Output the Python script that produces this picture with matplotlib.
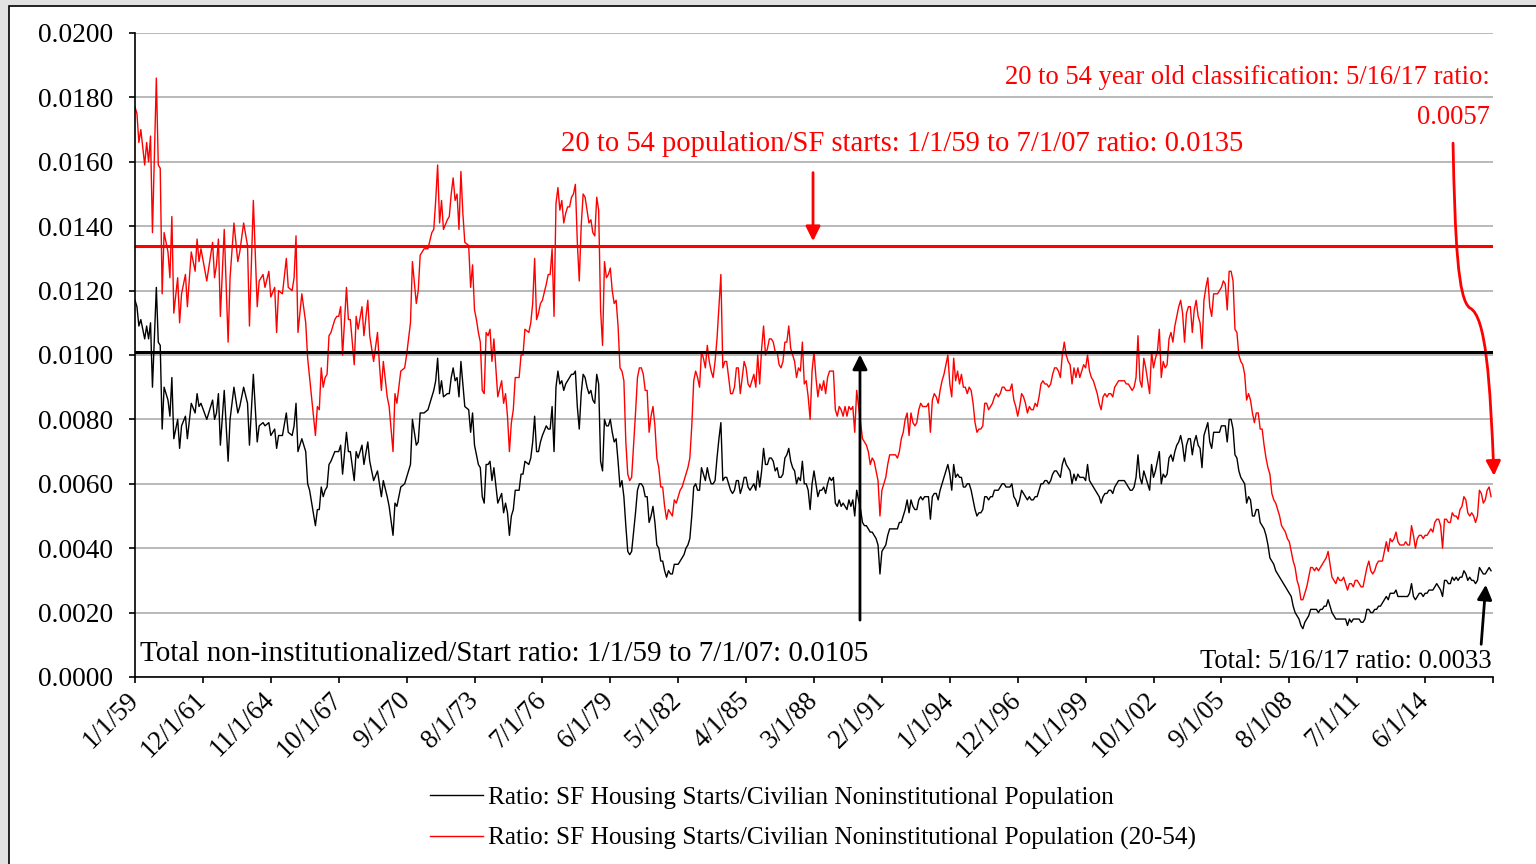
import numpy as np
import matplotlib
matplotlib.use('Agg')
import matplotlib.pyplot as plt
from matplotlib.patches import Rectangle, FancyArrowPatch
from matplotlib.path import Path
from matplotlib.ticker import FormatStrFormatter
from matplotlib.transforms import ScaledTranslation

plt.rcParams['font.family'] = ['Liberation Serif', 'DejaVu Serif']

# months counted from 1/1/59 (irregular up to month 221)
early_months = [0, 1, 2, 3, 5, 6, 7, 8, 9, 11,
                12, 13, 14, 15, 17, 18, 19, 20, 22, 23,
                24, 26, 27, 29, 31, 32, 33, 34, 37, 40,
                41, 42, 43, 44, 46, 48, 49, 51, 53, 54,
                56, 58, 59, 61, 63, 64, 66, 67, 69, 70,
                72, 73, 74, 76, 78, 79, 81, 82, 83, 84,
                86, 88, 89, 90, 93, 94, 95, 96, 97, 98,
                99, 100, 101, 103, 104, 105, 106, 107, 109, 110,
                111, 113, 114, 115, 117, 118, 120, 121, 123, 125,
                126, 127, 128, 130, 131, 133, 134, 135, 137, 139,
                140, 142, 143, 145, 146, 147, 149, 151, 153, 154,
                155, 156, 157, 158, 159, 161, 162, 163, 164, 165,
                166, 167, 168, 169, 170, 172, 173, 174, 175, 176,
                177, 178, 179, 180, 181, 182, 183, 184, 185, 187,
                189, 190, 191, 192, 193, 194, 195, 196, 198, 199,
                200, 201, 203, 204, 205, 206, 207, 208, 209, 210,
                212, 213, 214, 215, 216, 217, 218, 219, 220, 221]

early_red = [.0177, .0175, .0166, .0170, .0159, .0166, .0160, .0168, .0138, .0186,
             .0159, .0158, .0119, .0138, .0132, .0124, .0143, .0113, .0124, .0110,
             .0119, .0125, .0115, .0132, .0126, .0136, .0129, .0133, .0123, .0135,
             .0124, .0128, .0136, .0112, .0139, .0104, .0124, .0141, .0129, .0132,
             .0141, .0134, .0109, .0148, .0115, .0123, .0125, .0121, .0126, .0118,
             .0121, .0107, .0120, .0119, .0130, .0121, .0120, .0124, .0137, .0107,
             .0119, .0110, .0099, .0093, .0075, .0084, .0083, .0096, .0090, .0093,
             .0094, .0106, .0107, .0111, .0112, .0112, .0115, .0100, .0121, .0111,
             .0111, .0097, .0112, .0108, .0115, .0106, .0117, .0106, .0098, .0107,
             .0097, .0089, .0098, .0087, .0084, .0070, .0088, .0085, .0095, .0096,
             .0100, .0110, .0129, .0116, .0120, .0131, .0133, .0133, .0138, .0139,
             .0148, .0159, .0141, .0148, .0139, .0142, .0143, .0150, .0155, .0148,
             .0150, .0139, .0157, .0144, .0135, .0134, .0121, .0128, .0114, .0111,
             .0107, .0104, .0089, .0088, .0107, .0106, .0108, .0098, .0105, .0087,
             .0092, .0085, .0088, .0081, .0070, .0079, .0083, .0093, .0093, .0100,
             .0100, .0108, .0107, .0110, .0116, .0130, .0111, .0113, .0116, .0117,
             .0122, .0125, .0125, .0133, .0112, .0147, .0152, .0145, .0148, .0141]

early_black = [.0117, .0115, .0109, .0111, .0105, .0109, .0105, .0110, .0090, .0121,
               .0104, .0103, .0077, .0090, .0086, .0081, .0093, .0074, .0080, .0071,
               .0078, .0081, .0074, .0085, .0082, .0088, .0084, .0085, .0080, .0086,
               .0080, .0082, .0088, .0072, .0089, .0067, .0080, .0090, .0082, .0084,
               .0090, .0085, .0072, .0094, .0073, .0078, .0079, .0078, .0079, .0075,
               .0077, .0071, .0075, .0075, .0082, .0076, .0075, .0078, .0085, .0070,
               .0074, .0070, .0060, .0058, .0047, .0052, .0052, .0059, .0056, .0058,
               .0059, .0066, .0067, .0070, .0070, .0070, .0072, .0063, .0076, .0070,
               .0070, .0061, .0070, .0068, .0072, .0066, .0073, .0067, .0061, .0064,
               .0060, .0056, .0061, .0056, .0053, .0044, .0054, .0053, .0059, .0060,
               .0062, .0066, .0080, .0072, .0073, .0082, .0082, .0083, .0087, .0089,
               .0092, .0099, .0088, .0092, .0087, .0088, .0088, .0093, .0096, .0092,
               .0093, .0087, .0098, .0091, .0084, .0083, .0076, .0082, .0072, .0069,
               .0066, .0065, .0056, .0054, .0066, .0066, .0067, .0061, .0065, .0054,
               .0057, .0051, .0054, .0051, .0044, .0050, .0052, .0058, .0058, .0063,
               .0063, .0067, .0066, .0068, .0073, .0081, .0070, .0070, .0073, .0075,
               .0078, .0077, .0077, .0084, .0070, .0090, .0095, .0091, .0092, .0089]

# monthly from month 222 (7/1/77) to 4/1/17
late_red = [.0144, .0146, .0146, .0149, .0150, .0153, .0135, .0123, .0140, .0150,
            .0149, .0145, .0141, .0142, .0138, .0137, .0149, .0145, .0114, .0103,
            .0129, .0124, .0125, .0127, .0120, .0116, .0117, .0109, .0096, .0095,
            .0092, .0073, .0063, .0061, .0062, .0072, .0082, .0093, .0096, .0096,
            .0094, .0089, .0089, .0076, .0081, .0084, .0078, .0068, .0065, .0059,
            .0059, .0053, .0049, .0052, .0051, .0050, .0055, .0054, .0056, .0058,
            .0059, .0061, .0063, .0065, .0068, .0078, .0092, .0095, .0093, .0090,
            .0101, .0099, .0096, .0103, .0098, .0095, .0093, .0098, .0105, .0115,
            .0125, .0096, .0098, .0098, .0093, .0088, .0088, .0090, .0096, .0096,
            .0088, .0093, .0098, .0096, .0091, .0090, .0092, .0094, .0090, .0100,
            .0091, .0102, .0109, .0100, .0102, .0105, .0105, .0104, .0101, .0101,
            .0097, .0096, .0098, .0104, .0104, .0109, .0102, .0100, .0098, .0093,
            .0096, .0095, .0104, .0091, .0092, .0087, .0080, .0095, .0101, .0093,
            .0087, .0091, .0089, .0092, .0088, .0093, .0095, .0095, .0095, .0083,
            .0081, .0084, .0083, .0081, .0084, .0081, .0084, .0083, .0084, .0076,
            .0089, .0084, .0079, .0074, .0073, .0072, .0070, .0066, .0068, .0067,
            .0064, .0061, .0050, .0058, .0060, .0062, .0066, .0069, .0069, .0069,
            .0069, .0068, .0070, .0074, .0076, .0080, .0082, .0075, .0082, .0079,
            .0078, .0079, .0083, .0085, .0084, .0084, .0084, .0085, .0076, .0086,
            .0088, .0087, .0085, .0089, .0092, .0094, .0097, .0100, .0091, .0087,
            .0099, .0092, .0095, .0091, .0094, .0090, .0090, .0088, .0090, .0089,
            .0085, .0079, .0076, .0077, .0077, .0078, .0085, .0085, .0083, .0084,
            .0085, .0087, .0088, .0087, .0088, .0090, .0090, .0089, .0089, .0089,
            .0091, .0086, .0084, .0081, .0084, .0088, .0087, .0085, .0082, .0084,
            .0083, .0083, .0085, .0084, .0087, .0091, .0092, .0091, .0091, .0090,
            .0091, .0094, .0096, .0096, .0095, .0093, .0100, .0104, .0100, .0098,
            .0097, .0091, .0096, .0093, .0096, .0093, .0095, .0097, .0096, .0100,
            .0095, .0093, .0092, .0090, .0088, .0085, .0083, .0087, .0088, .0087,
            .0088, .0088, .0087, .0090, .0091, .0092, .0092, .0092, .0092, .0091,
            .0091, .0090, .0089, .0090, .0093, .0106, .0092, .0090, .0099, .0096,
            .0092, .0088, .0101, .0096, .0099, .0101, .0108, .0093, .0098, .0096,
            .0097, .0105, .0107, .0104, .0109, .0112, .0115, .0117, .0113, .0104,
            .0113, .0115, .0115, .0107, .0114, .0117, .0112, .0110, .0102, .0117,
            .0121, .0124, .0115, .0112, .0119, .0119, .0119, .0120, .0121, .0123,
            .0122, .0114, .0126, .0126, .0123, .0108, .0107, .0100, .0098, .0097,
            .0094, .0086, .0088, .0086, .0082, .0079, .0082, .0082, .0077, .0077,
            .0072, .0068, .0065, .0063, .0057, .0055, .0054, .0052, .0050, .0047,
            .0046, .0045, .0043, .0042, .0039, .0036, .0034, .0030, .0028, .0024,
            .0024, .0026, .0028, .0031, .0034, .0034, .0033, .0034, .0033, .0034,
            .0035, .0036, .0037, .0039, .0035, .0031, .0030, .0029, .0031, .0030,
            .0030, .0031, .0029, .0027, .0029, .0029, .0028, .0030, .0030, .0029,
            .0028, .0028, .0031, .0034, .0036, .0033, .0032, .0033, .0035, .0036,
            .0036, .0036, .0039, .0042, .0039, .0043, .0042, .0043, .0045, .0042,
            .0041, .0041, .0041, .0042, .0041, .0041, .0047, .0044, .0040, .0043,
            .0044, .0044, .0043, .0044, .0044, .0045, .0046, .0045, .0048, .0049,
            .0049, .0047, .0040, .0049, .0049, .0048, .0048, .0051, .0050, .0050,
            .0049, .0052, .0053, .0056, .0055, .0051, .0050, .0051, .0050, .0048,
            .0050, .0058, .0057, .0054, .0055, .0058, .0059, .0056]

late_black = [.0091, .0092, .0093, .0094, .0094, .0095, .0084, .0077, .0088, .0094,
              .0093, .0090, .0088, .0089, .0086, .0085, .0094, .0091, .0067, .0064,
              .0080, .0078, .0078, .0080, .0076, .0073, .0074, .0067, .0059, .0061,
              .0056, .0047, .0039, .0038, .0039, .0045, .0051, .0058, .0060, .0060,
              .0059, .0056, .0056, .0048, .0050, .0053, .0048, .0041, .0040, .0036,
              .0036, .0033, .0031, .0033, .0032, .0032, .0035, .0035, .0035, .0036,
              .0037, .0038, .0040, .0041, .0043, .0050, .0059, .0060, .0058, .0058,
              .0065, .0063, .0061, .0065, .0062, .0060, .0060, .0061, .0068, .0074,
              .0079, .0061, .0062, .0062, .0060, .0058, .0057, .0058, .0061, .0061,
              .0057, .0059, .0062, .0062, .0059, .0058, .0059, .0060, .0058, .0064,
              .0059, .0064, .0071, .0066, .0066, .0068, .0068, .0067, .0064, .0065,
              .0062, .0062, .0063, .0068, .0069, .0071, .0067, .0065, .0064, .0060,
              .0062, .0061, .0067, .0060, .0060, .0058, .0052, .0060, .0064, .0060,
              .0056, .0058, .0058, .0059, .0057, .0060, .0062, .0061, .0062, .0054,
              .0053, .0055, .0053, .0054, .0053, .0052, .0055, .0053, .0055, .0050,
              .0058, .0055, .0052, .0048, .0047, .0047, .0046, .0045, .0045, .0044,
              .0043, .0041, .0032, .0039, .0040, .0041, .0044, .0046, .0046, .0046,
              .0046, .0046, .0048, .0048, .0050, .0052, .0055, .0051, .0055, .0053,
              .0052, .0052, .0055, .0056, .0055, .0056, .0056, .0056, .0049, .0056,
              .0057, .0057, .0055, .0058, .0060, .0062, .0064, .0066, .0063, .0058,
              .0066, .0062, .0063, .0062, .0062, .0059, .0059, .0060, .0060, .0058,
              .0055, .0052, .0050, .0051, .0051, .0052, .0056, .0056, .0055, .0056,
              .0056, .0058, .0058, .0058, .0059, .0060, .0060, .0059, .0059, .0059,
              .0060, .0056, .0055, .0053, .0055, .0058, .0057, .0056, .0055, .0056,
              .0055, .0055, .0056, .0056, .0058, .0060, .0060, .0061, .0061, .0060,
              .0061, .0063, .0064, .0064, .0063, .0062, .0066, .0068, .0066, .0065,
              .0064, .0060, .0063, .0061, .0063, .0062, .0062, .0062, .0061, .0066,
              .0061, .0060, .0059, .0058, .0057, .0056, .0054, .0056, .0057, .0057,
              .0058, .0058, .0057, .0059, .0060, .0061, .0061, .0061, .0061, .0060,
              .0059, .0058, .0058, .0059, .0062, .0069, .0062, .0060, .0064, .0062,
              .0060, .0058, .0066, .0062, .0064, .0067, .0070, .0060, .0063, .0062,
              .0063, .0068, .0069, .0067, .0070, .0072, .0073, .0075, .0072, .0067,
              .0072, .0074, .0074, .0069, .0073, .0075, .0072, .0071, .0065, .0075,
              .0077, .0079, .0073, .0071, .0076, .0076, .0076, .0076, .0078, .0078,
              .0078, .0073, .0080, .0080, .0077, .0069, .0068, .0064, .0062, .0061,
              .0060, .0054, .0056, .0055, .0050, .0050, .0052, .0052, .0048, .0047,
              .0046, .0044, .0041, .0037, .0036, .0035, .0033, .0032, .0031, .0030,
              .0029, .0028, .0027, .0026, .0025, .0022, .0020, .0019, .0018, .0016,
              .0015, .0017, .0018, .0019, .0021, .0021, .0021, .0021, .0020, .0021,
              .0021, .0022, .0022, .0024, .0022, .0020, .0019, .0018, .0018, .0018,
              .0018, .0018, .0018, .0016, .0018, .0017, .0018, .0018, .0018, .0018,
              .0017, .0017, .0018, .0021, .0021, .0020, .0020, .0021, .0021, .0022,
              .0022, .0023, .0024, .0025, .0024, .0026, .0026, .0026, .0027, .0025,
              .0025, .0025, .0025, .0025, .0025, .0026, .0029, .0025, .0024, .0025,
              .0026, .0026, .0025, .0026, .0026, .0027, .0027, .0027, .0028, .0029,
              .0028, .0027, .0025, .0030, .0030, .0029, .0029, .0031, .0030, .0031,
              .0030, .0031, .0031, .0033, .0032, .0030, .0031, .0030, .0030, .0029,
              .0030, .0034, .0033, .0032, .0032, .0033, .0034, .0033]

tick_labels = ['1/1/59', '12/1/61', '11/1/64', '10/1/67', '9/1/70', '8/1/73', '7/1/76',
               '6/1/79', '5/1/82', '4/1/85', '3/1/88', '2/1/91', '1/1/94', '12/1/96',
               '11/1/99', '10/1/02', '9/1/05', '8/1/08', '7/1/11', '6/1/14']

avg_2054 = 0.0134    # 1/1/59 to 7/1/07 average, 20-54 series
avg_total = 0.0101   # 1/1/59 to 7/1/07 average, total series

assert len(early_months) == len(early_red) == len(early_black)
assert len(late_red) == len(late_black)

months = np.array(early_months + list(range(222, 222 + len(late_red))))
red = np.array(early_red + late_red)
black = np.array(early_black + late_black)

W, H = 1536, 864
fig = plt.figure(figsize=(W / 100, H / 100), dpi=100)
fig.patch.set_facecolor('#e2e2e2')
fig.add_artist(Rectangle((9 / W, -0.05), 1.0, 1.05 - 6 / H, transform=fig.transFigure,
                         facecolor='white', edgecolor='black', lw=1.2, zorder=-1))

ax = fig.add_axes([135 / W, 1 - 677 / H, (1493 - 135) / W, (677 - 33) / H])

l1, = ax.plot(months, black, color='black', lw=1.0)
l2, = ax.plot(months, red, color='red', lw=1.0)
ax.axhline(avg_2054, color='red', lw=2.2)
ax.axhline(avg_total, color='black', lw=2.2)

ax.set_xlim(0, 700)
ax.set_ylim(0, 0.02)
ax.set_yticks(np.arange(0, 0.02001, 0.002))
ax.yaxis.set_major_formatter(FormatStrFormatter('%.4f'))
ax.set_xticks(np.arange(0, 701, 35))
ax.set_xticklabels(tick_labels + [''], rotation=45, ha='right', rotation_mode='anchor')
ax.tick_params(direction='out', length=4.5, width=1.2, colors='black')
ax.tick_params(axis='y', labelsize=19.8, pad=11)
ax.tick_params(axis='x', labelsize=19.2, pad=3)
shift = ScaledTranslation(-9 / 100, 0, fig.dpi_scale_trans)
for lab in ax.get_xticklabels():
    lab.set_transform(lab.get_transform() + shift)
ax.grid(axis='y', color='#b3b3b3', lw=1.3)
ax.set_axisbelow(True)
for s in ['top', 'right']:
    ax.spines[s].set_visible(False)
for s in ['left', 'bottom']:
    ax.spines[s].set_linewidth(1.2)

# annotations
fig.text(1490 / W, 1 - 78 / H, '20 to 54 year old classification: 5/16/17 ratio:',
         ha='right', va='center', color='red', fontsize=19.2)
fig.text(1490 / W, 1 - 118 / H, '0.0057', ha='right', va='center', color='red', fontsize=19.2)
fig.text(561 / W, 1 - 144 / H, '20 to 54 population/SF starts: 1/1/59 to 7/1/07 ratio: 0.0135',
         ha='left', va='center', color='red', fontsize=20.6)
fig.text(140 / W, 1 - 654 / H, 'Total non-institutionalized/Start ratio: 1/1/59 to 7/1/07: 0.0105',
         ha='left', va='center', color='black', fontsize=21)
fig.text(1492 / W, 1 - 661 / H, 'Total: 5/16/17 ratio: 0.0033',
         ha='right', va='center', color='black', fontsize=19.2)

ax.annotate('', xy=(349.5, 0.01345), xytext=(349.5, 0.01575),
            arrowprops=dict(arrowstyle='-|>', color='red', lw=2, mutation_scale=22))
ax.annotate('', xy=(373.7, 0.0101), xytext=(373.7, 0.00168),
            arrowprops=dict(arrowstyle='-|>', color='black', lw=2, mutation_scale=22))
ax.annotate('', xy=(696.4, 0.00295), xytext=(693.8, 0.00093),
            arrowprops=dict(arrowstyle='-|>', color='black', lw=2, mutation_scale=22))

curve = Path([(679.4, 0.01658), (680.4, 0.01357), (681.9, 0.01171), (688.1, 0.01146),
              (696.4, 0.01121), (698.5, 0.00922), (700.5, 0.00625)],
             [Path.MOVETO, Path.CURVE4, Path.CURVE4, Path.CURVE4,
              Path.CURVE4, Path.CURVE4, Path.CURVE4])
arr = FancyArrowPatch(path=curve, arrowstyle='-|>', mutation_scale=22, color='red', lw=2,
                      transform=ax.transData, clip_on=False)
ax.add_patch(arr)

fig.legend([l1, l2],
           ['Ratio: SF Housing Starts/Civilian Noninstitutional Population',
            'Ratio: SF Housing Starts/Civilian Noninstitutional Population (20-54)'],
           loc='center left', bbox_to_anchor=(430 / W, 1 - 818 / H), frameon=False,
           fontsize=18.2, handlelength=2.1, handletextpad=0.2, labelspacing=0.72,
           borderpad=0, borderaxespad=0)

fig.savefig('out.png', dpi=100, facecolor=fig.get_facecolor())
